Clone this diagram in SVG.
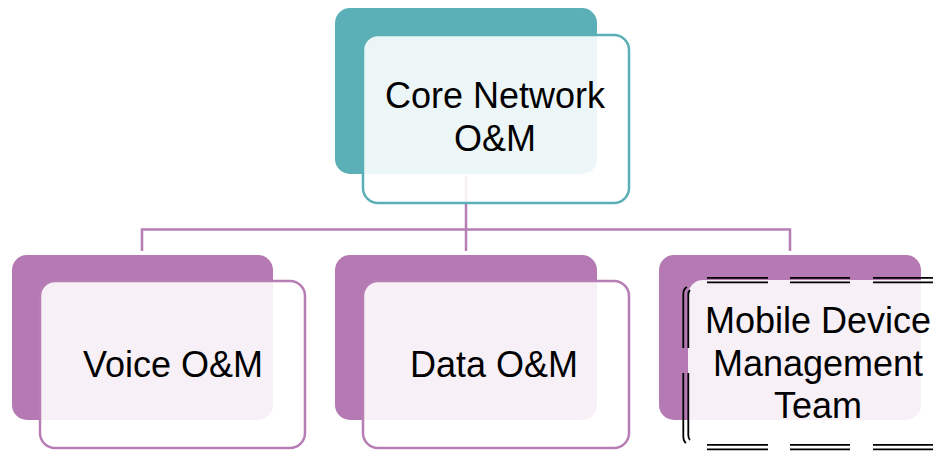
<svg xmlns="http://www.w3.org/2000/svg" width="944" height="451" viewBox="0 0 944 451">
  <style>
    .back-teal { fill: #5BB0B8; }
    .back-purple { fill: #B57AB3; }
    .front { fill: #FFFFFF; fill-opacity: 0.89; stroke-width: 2.5; }
    .front-teal { stroke: #5BB0B8; }
    .front-purple { stroke: #B77DB5; }
    .front-plain { stroke: none; }
    .link { fill: none; stroke: #B77DB5; stroke-width: 2.5; }
    .label { font-family: "Liberation Sans", Arial, sans-serif; font-size: 36px; fill: #000000; text-anchor: middle; }
    .frame { fill: none; stroke: #000000; stroke-width: 1.8; }
  </style>
  <rect width="944" height="451" fill="#FFFFFF"/>

  <!-- back plates -->
  <rect class="back-teal" x="335" y="8" width="262" height="166" rx="15"/>
  <rect class="back-purple" x="12" y="255" width="261" height="165" rx="15"/>
  <rect class="back-purple" x="335" y="255" width="262" height="165" rx="15"/>
  <rect class="back-purple" x="659" y="255" width="262" height="165" rx="15"/>

  <!-- connectors -->
  <g id="connectors">
    <path class="link" d="M466 176 V251"/>
    <path class="link" d="M142 251 V229.5 H790 V251"/>
  </g>

  <g id="core">
    <rect class="front front-teal" x="363" y="35" width="266" height="168" rx="15"/>
    <text class="label" x="495" y="108">Core Network</text>
    <text class="label" x="495" y="151">O&amp;M</text>
  </g>

  <g id="voice">
    <rect class="front front-purple" x="40" y="281" width="265" height="167" rx="15"/>
    <text class="label" x="173" y="377">Voice O&amp;M</text>
  </g>

  <g id="data">
    <rect class="front front-purple" x="363" y="281" width="266" height="167" rx="15"/>
    <text class="label" x="494" y="377">Data O&amp;M</text>
  </g>

  <g id="mobile">
    <rect class="front front-plain" x="688" y="280" width="280" height="168" rx="15"/>
    <!-- double long-dash text frame -->
    <path class="frame" d="M707 277.8 H768 M790 277.8 H850 M873 277.8 H933"/>
    <path class="frame" d="M707 282.4 H768 M790 282.4 H850 M873 282.4 H933"/>
    <path class="frame" d="M707 444.8 H768 M790 444.8 H850 M873 444.8 H933"/>
    <path class="frame" d="M707 449.4 H768 M790 449.4 H850 M873 449.4 H933" stroke="#888888"/>
    <path class="frame" d="M687 287 Q683.3 289 683.3 294 V348 M683.3 373 V436 Q683.3 441 686 443"/>
    <path class="frame" d="M690 290 Q688.3 291.5 688.3 295 V348 M688.3 373 V435 Q688.3 438.5 690 440"/>
    <text class="label" x="818" y="333">Mobile Device</text>
    <text class="label" x="818" y="376">Management</text>
    <text class="label" x="818" y="418">Team</text>
  </g>
</svg>
